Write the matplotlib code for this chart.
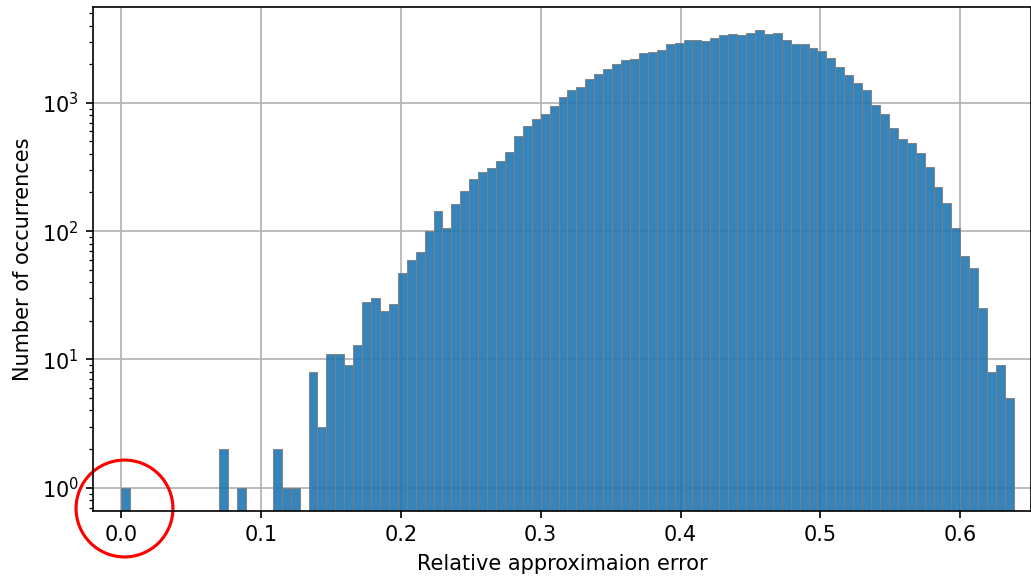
import matplotlib
matplotlib.use("Agg")
import matplotlib.pyplot as plt
import numpy as np

# histogram of relative errors, 100 bins from 0 to max error
err_max = 0.6383
n_bins = 100
counts = [1, 0, 0, 0, 0, 0, 0, 0, 0, 0,
          0, 2, 0, 1, 0, 0, 0, 2, 1, 1,
          0, 8, 3, 11, 11, 9, 13, 28, 30, 24,
          27, 47, 60, 69, 101, 144, 105, 163, 205, 255,
          287, 310, 350, 414, 548, 656, 743, 818, 939, 1116,
          1251, 1321, 1541, 1677, 1834, 1995, 2144, 2183, 2457, 2502,
          2594, 2857, 2910, 3085, 3104, 3048, 3216, 3394, 3419, 3375,
          3518, 3673, 3419, 3481, 3070, 2872, 2890, 2659, 2533, 2222,
          1901, 1638, 1427, 1251, 961, 813, 633, 525, 484, 404,
          314, 219, 166, 105, 64, 52, 25, 8, 9, 5]

# marked point (the circled zero-error bin)
mark_x = 0.002
mark_y = 0.695

edges = np.linspace(0, err_max, n_bins + 1)

fig = plt.figure(figsize=(1031 / 150, 578 / 150), dpi=150)
ax = fig.add_axes([0.0905, 0.1164, 0.9095, 0.8715])
ax.set_axisbelow(True)
ax.grid(True)
ax.hist(edges[:-1], bins=edges, weights=counts, color='tab:blue', alpha=0.9,
        edgecolor='grey', linewidth=0.5)
ax.set_yscale('log')
ax.set_ylim(0.662, 5580)
ax.set_xlim(-0.0198, 0.6505)
ax.set_xlabel('Relative approximaion error')
ax.set_ylabel('Number of occurrences')

ax.plot(mark_x, mark_y, 'o', ms=46.5, mfc='none', mec='red', mew=1.5, clip_on=False)

fig.savefig('out.png', dpi=150)
